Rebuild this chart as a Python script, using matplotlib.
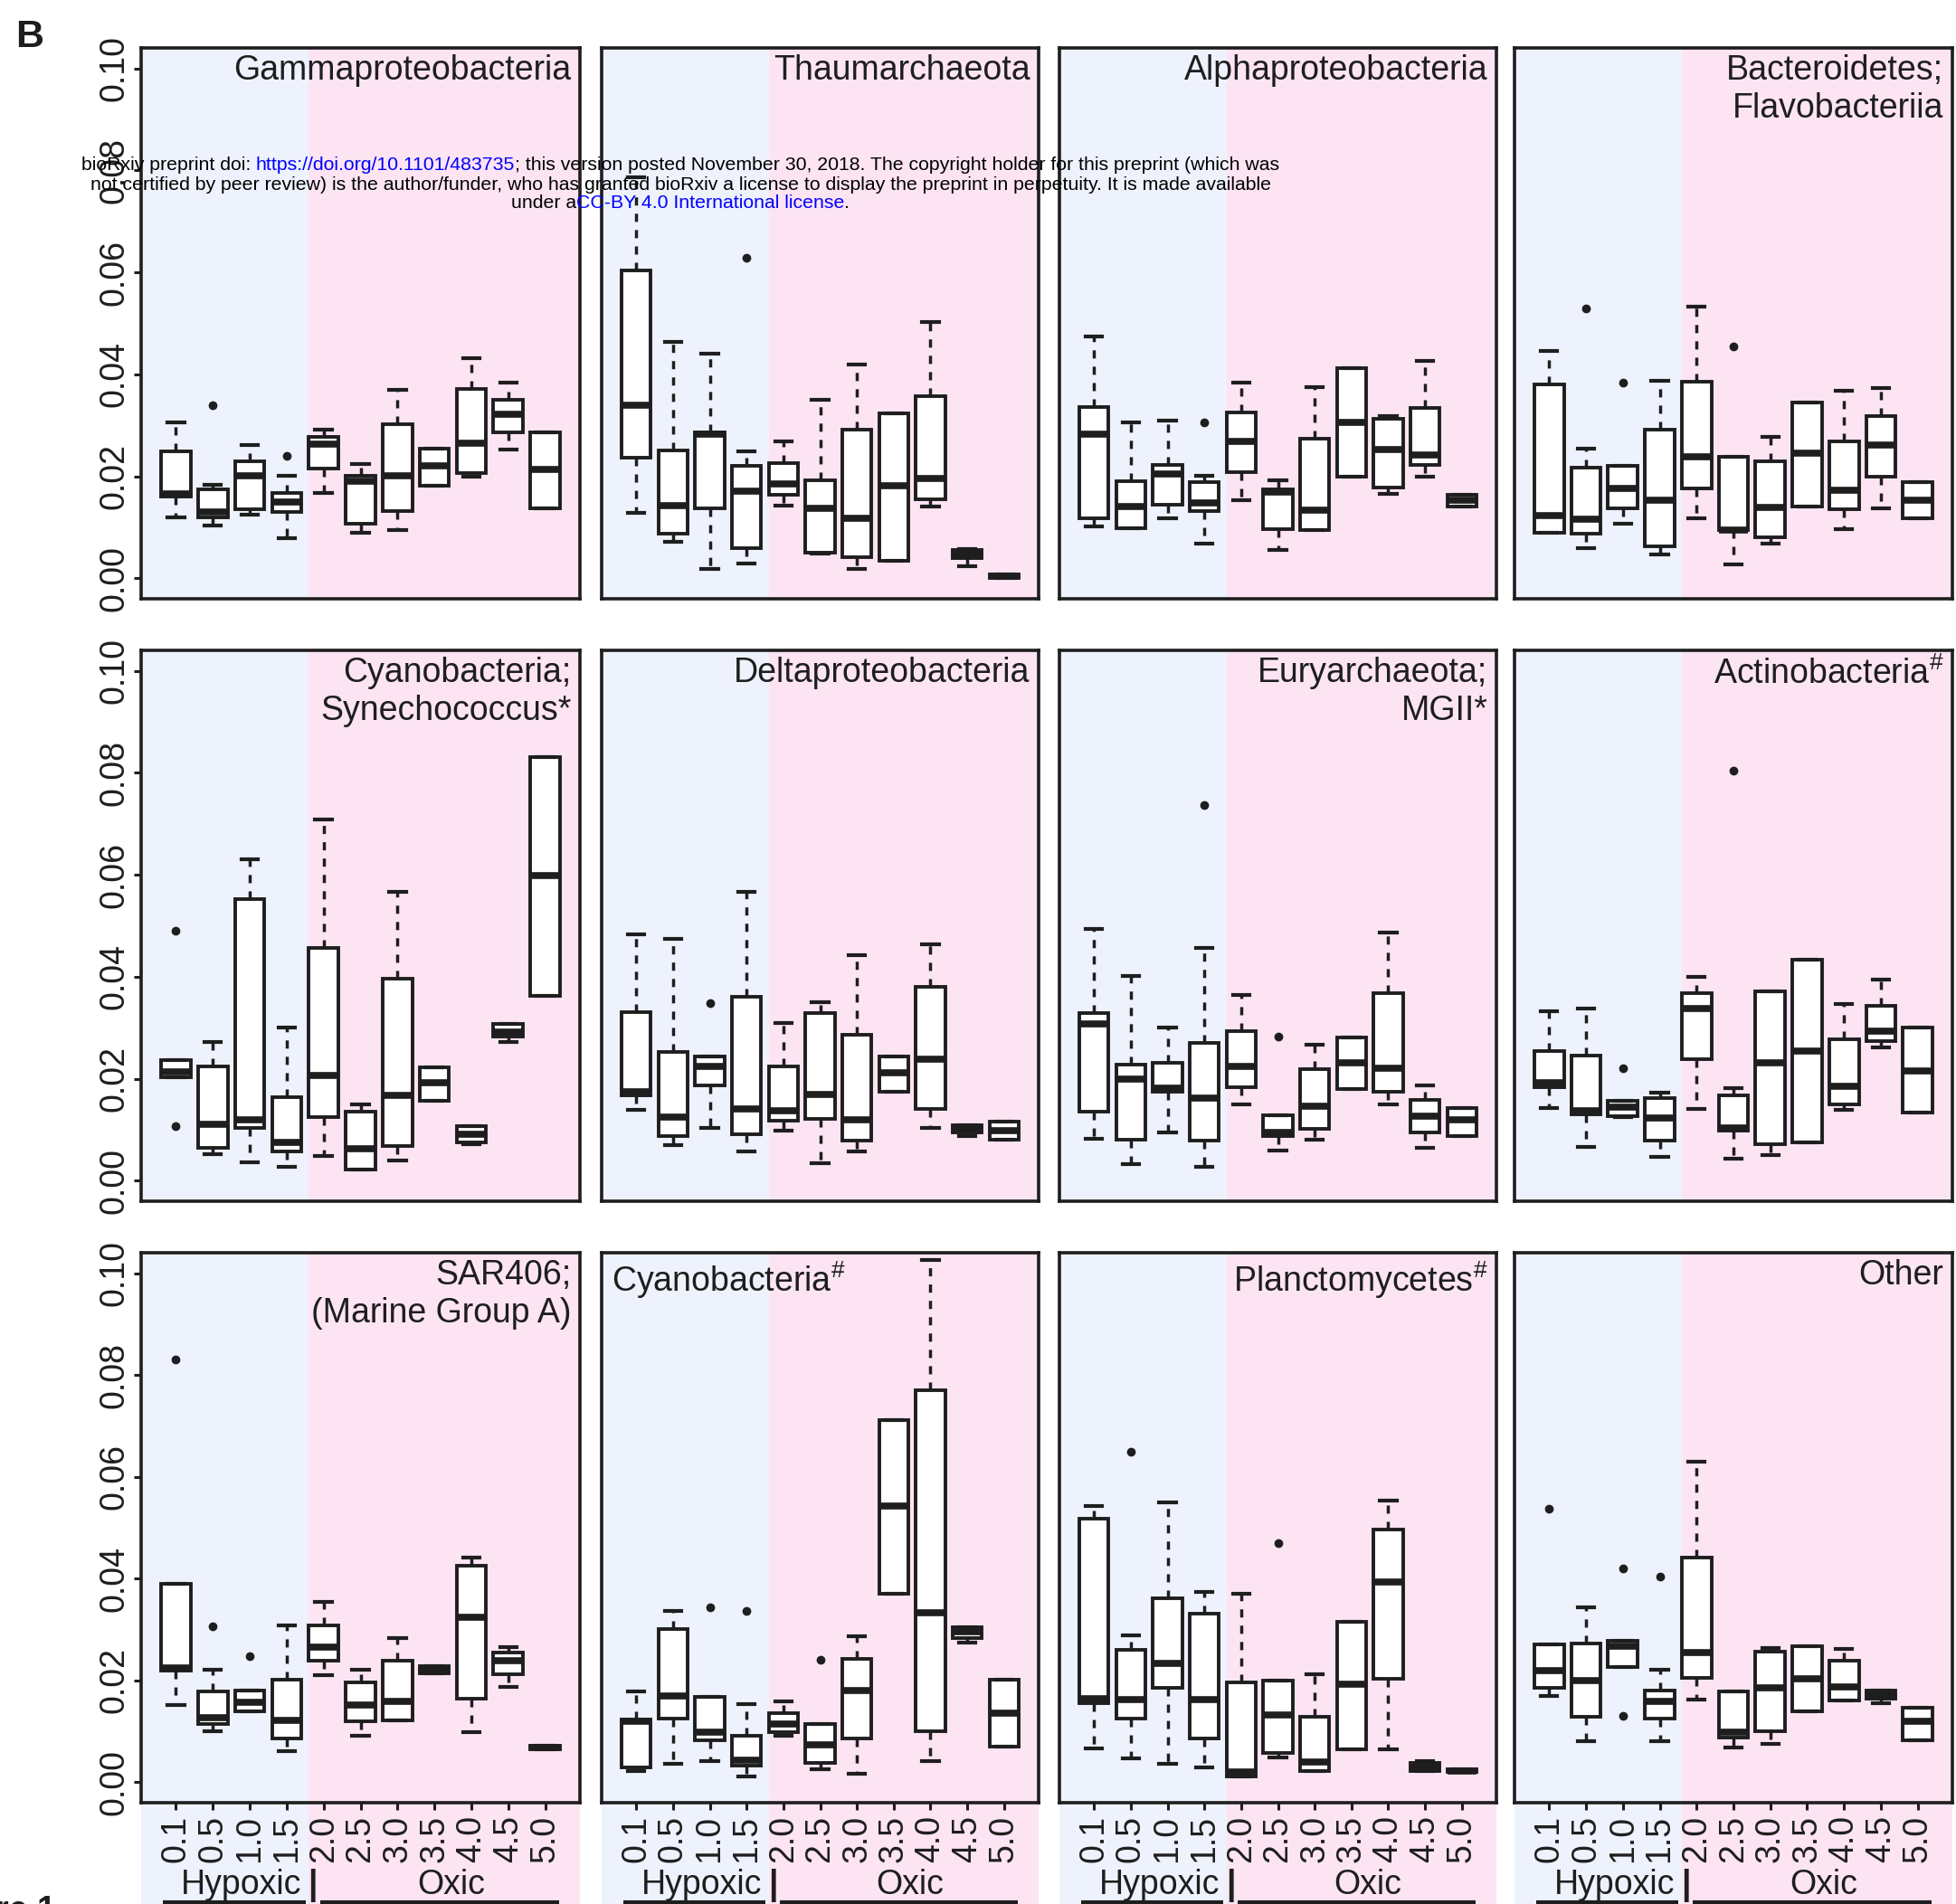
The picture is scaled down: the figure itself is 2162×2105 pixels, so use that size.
import matplotlib
matplotlib.use("Agg")
import matplotlib.pyplot as plt
from matplotlib.patches import Rectangle
from matplotlib.transforms import blended_transform_factory
from matplotlib.font_manager import FontProperties

plt.rcParams['font.family'] = ['Liberation Sans', 'DejaVu Sans']
plt.rcParams['mathtext.fontset'] = 'custom'
plt.rcParams['mathtext.rm'] = 'Liberation Sans'
plt.rcParams['mathtext.it'] = 'Liberation Sans:italic'
plt.rcParams['mathtext.bf'] = 'Liberation Sans:bold'

# --- data (relative abundance) ---
depths = ["0.1", "0.5", "1.0", "1.5", "2.0", "2.5", "3.0", "3.5", "4.0", "4.5", "5.0"]
titles = ["Gammaproteobacteria", "Thaumarchaeota", "Alphaproteobacteria",
          "Bacteroidetes;\nFlavobacteriia",
          "Cyanobacteria;\nSynechococcus*", "Deltaproteobacteria",
          "Euryarchaeota;\nMGII*", r"Actinobacteria$^{\#}$",
          "SAR406;\n(Marine Group A)", r"Cyanobacteria$^{\#}$",
          r"Planctomycetes$^{\#}$", "Other"]

whis_lo = [
    [0.012, 0.0103, 0.0125, 0.0079, 0.0168, 0.009, 0.0095, 0.0182, 0.0199, 0.0253, 0.0137],
    [0.0128, 0.0072, 0.0018, 0.0029, 0.0143, 0.0048, 0.0018, 0.0034, 0.0141, 0.0023, 0.0001],
    [0.0101, 0.0099, 0.0117, 0.0069, 0.0153, 0.0056, 0.0095, 0.0199, 0.0166, 0.0199, 0.0141],
    [0.009, 0.0059, 0.0108, 0.0047, 0.0117, 0.0027, 0.0069, 0.0141, 0.0097, 0.0137, 0.0117],
    [0.0203, 0.0053, 0.0036, 0.0028, 0.0049, 0.0022, 0.004, 0.0156, 0.0072, 0.0272, 0.0362],
    [0.014, 0.007, 0.0103, 0.0058, 0.0098, 0.0035, 0.0057, 0.0174, 0.0103, 0.0088, 0.008],
    [0.0083, 0.0033, 0.0094, 0.0028, 0.0149, 0.0059, 0.0081, 0.018, 0.015, 0.0065, 0.0087],
    [0.0143, 0.0067, 0.0125, 0.0047, 0.0141, 0.0043, 0.0051, 0.0076, 0.0139, 0.0261, 0.0134],
    [0.0152, 0.0101, 0.0139, 0.0062, 0.021, 0.0092, 0.0122, 0.0214, 0.0098, 0.0187, 0.0065],
    [0.0022, 0.0036, 0.0042, 0.0011, 0.0091, 0.0025, 0.0016, 0.0371, 0.0042, 0.0275, 0.007],
    [0.0067, 0.0047, 0.0036, 0.0029, 0.0011, 0.0049, 0.0022, 0.0065, 0.0064, 0.0022, 0.002],
    [0.0169, 0.008, 0.0227, 0.008, 0.0162, 0.0069, 0.0076, 0.0139, 0.0161, 0.0156, 0.0083],
]
q1 = [
    [0.016, 0.0119, 0.0136, 0.013, 0.0215, 0.0108, 0.0132, 0.0182, 0.0206, 0.0287, 0.0137],
    [0.0237, 0.0087, 0.0137, 0.0059, 0.0164, 0.0051, 0.0041, 0.0034, 0.0155, 0.004, 0.0001],
    [0.0118, 0.0099, 0.0144, 0.0132, 0.0209, 0.0097, 0.0095, 0.0199, 0.0179, 0.0222, 0.0141],
    [0.009, 0.0088, 0.0137, 0.0063, 0.0177, 0.0094, 0.0081, 0.0141, 0.0135, 0.0199, 0.0117],
    [0.0203, 0.0064, 0.0103, 0.0058, 0.0125, 0.0022, 0.0069, 0.0156, 0.0076, 0.0283, 0.0362],
    [0.0167, 0.0087, 0.0187, 0.0092, 0.0117, 0.0121, 0.0078, 0.0174, 0.0141, 0.0094, 0.008],
    [0.0136, 0.0081, 0.0174, 0.0078, 0.0183, 0.0088, 0.0101, 0.018, 0.0174, 0.0094, 0.0087],
    [0.0183, 0.013, 0.0127, 0.0078, 0.0238, 0.0098, 0.0071, 0.0076, 0.0149, 0.0274, 0.0134],
    [0.0219, 0.0114, 0.0139, 0.0087, 0.0239, 0.012, 0.0122, 0.0214, 0.0165, 0.0212, 0.0065],
    [0.003, 0.0125, 0.0083, 0.0033, 0.0098, 0.0038, 0.0087, 0.0371, 0.0101, 0.0284, 0.007],
    [0.0156, 0.0125, 0.0185, 0.0086, 0.0011, 0.0058, 0.0022, 0.0065, 0.0204, 0.0022, 0.002],
    [0.0186, 0.0128, 0.0227, 0.0125, 0.0205, 0.0088, 0.01, 0.0139, 0.0161, 0.0164, 0.0083],
]
median = [
    [0.0166, 0.0131, 0.0202, 0.0149, 0.0264, 0.0191, 0.0202, 0.022, 0.0265, 0.0321, 0.0214],
    [0.0339, 0.0142, 0.0282, 0.0171, 0.0186, 0.0137, 0.0117, 0.0181, 0.0195, 0.0047, 0.0004],
    [0.0283, 0.0141, 0.0204, 0.0148, 0.0269, 0.017, 0.0134, 0.0305, 0.0253, 0.0242, 0.0153],
    [0.0123, 0.0116, 0.0177, 0.0153, 0.0238, 0.0094, 0.0139, 0.0245, 0.0173, 0.0261, 0.0153],
    [0.0214, 0.011, 0.012, 0.0076, 0.0207, 0.0062, 0.0167, 0.0192, 0.0091, 0.0292, 0.0598],
    [0.0175, 0.0125, 0.0225, 0.0141, 0.0138, 0.0169, 0.012, 0.0212, 0.0239, 0.0101, 0.0099],
    [0.0308, 0.0199, 0.0181, 0.0163, 0.0225, 0.0094, 0.0146, 0.0232, 0.0221, 0.0127, 0.012],
    [0.0192, 0.0138, 0.0145, 0.0123, 0.0338, 0.0103, 0.0232, 0.0254, 0.0185, 0.0293, 0.0216],
    [0.0225, 0.0127, 0.0158, 0.0121, 0.0266, 0.0151, 0.0159, 0.0221, 0.0325, 0.0239, 0.0069],
    [0.012, 0.017, 0.0098, 0.0043, 0.0114, 0.0074, 0.0181, 0.0543, 0.0333, 0.0295, 0.0136],
    [0.0165, 0.0163, 0.0233, 0.0163, 0.002, 0.0132, 0.004, 0.0192, 0.0393, 0.0029, 0.0023],
    [0.022, 0.0199, 0.0268, 0.0159, 0.0254, 0.0098, 0.0186, 0.0203, 0.0188, 0.0172, 0.012],
]
q3 = [
    [0.0249, 0.0175, 0.0229, 0.0168, 0.0278, 0.0202, 0.0302, 0.0254, 0.0372, 0.035, 0.0287],
    [0.0603, 0.025, 0.0287, 0.022, 0.0226, 0.0193, 0.0292, 0.0323, 0.0357, 0.0056, 0.0007],
    [0.0336, 0.019, 0.0222, 0.0188, 0.0325, 0.0175, 0.0274, 0.0413, 0.0313, 0.0334, 0.0164],
    [0.038, 0.0217, 0.022, 0.0291, 0.0385, 0.0238, 0.023, 0.0344, 0.0269, 0.0318, 0.0188],
    [0.0236, 0.0225, 0.0553, 0.0164, 0.0457, 0.0136, 0.0396, 0.0222, 0.0107, 0.0308, 0.0831],
    [0.033, 0.0252, 0.0244, 0.0361, 0.0225, 0.0328, 0.0286, 0.0244, 0.038, 0.0109, 0.0116],
    [0.0328, 0.0228, 0.0232, 0.027, 0.0293, 0.0129, 0.0219, 0.0281, 0.0367, 0.0159, 0.0143],
    [0.0254, 0.0246, 0.0156, 0.0163, 0.0367, 0.0168, 0.0371, 0.0433, 0.0278, 0.0343, 0.0301],
    [0.0389, 0.0178, 0.0181, 0.0201, 0.0309, 0.0197, 0.0239, 0.0228, 0.0426, 0.0254, 0.0072],
    [0.0123, 0.0301, 0.0167, 0.0091, 0.0136, 0.0114, 0.0243, 0.0712, 0.077, 0.0304, 0.0201],
    [0.0518, 0.0261, 0.0361, 0.0332, 0.0196, 0.0199, 0.0128, 0.0315, 0.0496, 0.0038, 0.0025],
    [0.027, 0.0273, 0.0278, 0.018, 0.0442, 0.0178, 0.0256, 0.0267, 0.0238, 0.0181, 0.0146],
]
whis_hi = [
    [0.0305, 0.0183, 0.0262, 0.0202, 0.0292, 0.0224, 0.037, 0.0254, 0.0432, 0.0383, 0.0287],
    [0.0787, 0.0464, 0.044, 0.0249, 0.0269, 0.035, 0.042, 0.0323, 0.0503, 0.0058, 0.0007],
    [0.0475, 0.0305, 0.031, 0.0202, 0.0383, 0.0193, 0.0375, 0.0413, 0.0319, 0.0427, 0.0164],
    [0.0446, 0.0254, 0.022, 0.0388, 0.0532, 0.0238, 0.0278, 0.0344, 0.0368, 0.0374, 0.0188],
    [0.0236, 0.0272, 0.063, 0.0301, 0.0708, 0.015, 0.0567, 0.0222, 0.0107, 0.0308, 0.0831],
    [0.0483, 0.0475, 0.0244, 0.0567, 0.031, 0.0351, 0.0442, 0.0244, 0.0464, 0.0109, 0.0116],
    [0.0494, 0.0402, 0.0301, 0.0457, 0.0364, 0.0129, 0.0266, 0.0281, 0.0486, 0.0187, 0.0143],
    [0.0332, 0.0337, 0.0156, 0.0172, 0.04, 0.0181, 0.0371, 0.0433, 0.0346, 0.0395, 0.0301],
    [0.0389, 0.0222, 0.0181, 0.0309, 0.0354, 0.0221, 0.0284, 0.0228, 0.0441, 0.0266, 0.0072],
    [0.0179, 0.0337, 0.0167, 0.0154, 0.0159, 0.0114, 0.0286, 0.0712, 0.1025, 0.0304, 0.0201],
    [0.0542, 0.0288, 0.0549, 0.0373, 0.037, 0.0199, 0.0212, 0.0315, 0.0554, 0.0042, 0.0025],
    [0.027, 0.0344, 0.0278, 0.0221, 0.063, 0.0178, 0.0264, 0.0267, 0.0262, 0.0181, 0.0146],
]
outliers = [
    [[], [0.034], [], [0.024], [], [], [], [], [], [], []],
    [[], [], [], [0.0628], [], [], [], [], [], [], []],
    [[], [], [], [0.0305], [], [], [], [], [], [], []],
    [[], [0.0529], [0.0383], [], [], [0.0455], [], [], [], [], []],
    [[0.0491, 0.0107], [], [], [], [], [], [], [], [], [], []],
    [[], [], [0.0349], [], [], [], [], [], [], [], []],
    [[], [], [], [0.0736], [], [0.0283], [], [], [], [], []],
    [[], [], [0.0221], [], [], [0.0804], [], [], [], [], []],
    [[0.083], [0.0306], [0.0248], [], [], [], [], [], [], [], []],
    [[], [], [0.0344], [0.0337], [], [0.0241], [], [], [], [], []],
    [[], [0.0649], [], [], [], [0.047], [], [], [], [], []],
    [[0.0538], [], [0.042, 0.013], [0.0404], [], [], [], [], [], [], []],
]

W, H = 2162, 2105
fig = plt.figure(figsize=(W / 100, H / 100), dpi=100)

ink = '#1e1e1e'
blue_bg = '#eef2fc'
pink_bg = '#fce4f3'
split = 4.6
xlo, xhi = 0.06, 11.94
fs = 27

col_px = [(156, 641), (665, 1148), (1171, 1654), (1674, 2158)]
row_px = [(53, 662), (719, 1328), (1385, 1993)]
pos = list(range(1, 12))

for i in range(12):
    r, c = divmod(i, 4)
    x0, x1 = col_px[c]
    y0, y1 = row_px[r]
    ax = fig.add_axes([x0 / W, 1 - y1 / H, (x1 - x0) / W, (y1 - y0) / H])

    if r < 2:
        ax.axvspan(xlo, split, color=blue_bg, zorder=0, lw=0)
        ax.axvspan(split, xhi, color=pink_bg, zorder=0, lw=0)
    else:
        # bottom row: shading runs on down behind the tick labels
        tr = blended_transform_factory(ax.transData, ax.transAxes)
        ax.add_patch(Rectangle((xlo, -0.3), split - xlo, 1.3, transform=tr,
                               color=blue_bg, lw=0, zorder=0, clip_on=False))
        ax.add_patch(Rectangle((split, -0.3), xhi - split, 1.3, transform=tr,
                               color=pink_bg, lw=0, zorder=0, clip_on=False))

    stats = []
    for j in range(11):
        stats.append(dict(med=median[i][j], q1=q1[i][j], q3=q3[i][j],
                          whislo=whis_lo[i][j], whishi=whis_hi[i][j],
                          fliers=outliers[i][j]))
    ax.bxp(stats, positions=pos, widths=0.8, capwidths=0.45, patch_artist=True,
           manage_ticks=False,
           boxprops=dict(facecolor='white', edgecolor=ink, linewidth=2.8),
           medianprops=dict(color=ink, linewidth=5.5, solid_capstyle='butt'),
           whiskerprops=dict(color=ink, linewidth=2.5, linestyle=(0, (2.6, 2.6))),
           capprops=dict(color=ink, linewidth=3),
           flierprops=dict(marker='o', markersize=6, markerfacecolor=ink,
                           markeredgecolor=ink))

    ax.set_xlim(xlo, xhi)
    ax.set_ylim(-0.004, 0.104)
    for sp in ax.spines.values():
        sp.set_color(ink)
        sp.set_linewidth(2.6)

    if c == 0:
        yt = [0, 0.02, 0.04, 0.06, 0.08, 0.10]
        ax.set_yticks(yt)
        ax.set_yticklabels(["%.2f" % v for v in yt], rotation=90, va='center')
        ax.tick_params(axis='y', length=6, width=2.2, pad=2, labelsize=fs,
                       color=ink, labelcolor=ink)
    else:
        ax.set_yticks([])

    if r == 2:
        ax.set_xticks(pos)
        ax.set_xticklabels(depths, rotation=90)
        ax.tick_params(axis='x', length=6, width=2.2, pad=4, labelsize=fs,
                       color=ink, labelcolor=ink)
        trf = blended_transform_factory(ax.transData, fig.transFigure)
        yb = 1 - 2094 / H
        ax.text(2.77, yb, "Hypoxic", transform=trf, ha='center', va='baseline',
                fontsize=fs, color=ink)
        ax.text(4.71, yb, "|", transform=trf, ha='center', va='baseline',
                fontsize=fs, color=ink, fontweight='bold')
        ax.text(8.45, yb, "Oxic", transform=trf, ha='center', va='baseline',
                fontsize=fs, color=ink)
        yl = 1 - 2103 / H
        ax.plot([0.66, 4.51], [yl, yl], transform=trf, color=ink, lw=3,
                clip_on=False, solid_capstyle='butt')
        ax.plot([4.9, 11.37], [yl, yl], transform=trf, color=ink, lw=3,
                clip_on=False, solid_capstyle='butt')
    else:
        ax.set_xticks([])

    if i == 9:
        ax.annotate(titles[i], xy=(0, 1), xycoords='axes fraction',
                    xytext=(8, -5), textcoords='offset points', ha='left',
                    va='top', fontsize=fs, color=ink)
    else:
        ax.annotate(titles[i], xy=(1, 1), xycoords='axes fraction',
                    xytext=(-7, -5), textcoords='offset points', ha='right',
                    va='top', fontsize=fs, color=ink, multialignment='right',
                    linespacing=1.2)

fig.text(17 / W, 1 - 52 / H, "B", fontsize=31, fontweight='bold', color=ink,
         ha='left', va='baseline')
fig.text(62 / W, 1 - 2095 / H, "Figure 1", fontsize=fs, fontweight='bold',
         color=ink, ha='right', va='top')

# preprint banner, drawn piece by piece so the links can be blue
banner = [
    [("bioRxiv preprint doi: ", 'black'), ("https://doi.org/10.1101/483735", 'blue'),
     ("; this version posted November 30, 2018. The copyright holder for this preprint (which was", 'black')],
    [("not certified by peer review) is the author/funder, who has granted bioRxiv a license to display the preprint in perpetuity. It is made available", 'black')],
    [("under a", 'black'), ("CC-BY 4.0 International license", 'blue'), (".", 'black')],
]
banner_y = [183, 204, 225]
renderer = fig.canvas.get_renderer()


def text_w(s, size):
    fp = FontProperties(family='Liberation Sans', size=size)
    w, h, d = renderer.get_text_width_height_descent(s, fp, ismath=False)
    return w


full1 = "".join(s for s, _ in banner[0])
bsize = 10 * 1333 / text_w(full1, 10)
for line, yy in zip(banner, banner_y):
    full = "".join(s for s, _ in line)
    left = 752 - text_w(full, bsize) / 2
    k = 0
    for s, col in line:
        off = 0 if k == 0 else text_w(full[:k] + "H", bsize) - text_w("H", bsize)
        fig.text((left + off) / W, 1 - yy / H, s, fontsize=bsize, color=col,
                 family='Liberation Sans', ha='left', va='center', zorder=10)
        k += len(s)

fig.savefig("out.png", dpi=100)
